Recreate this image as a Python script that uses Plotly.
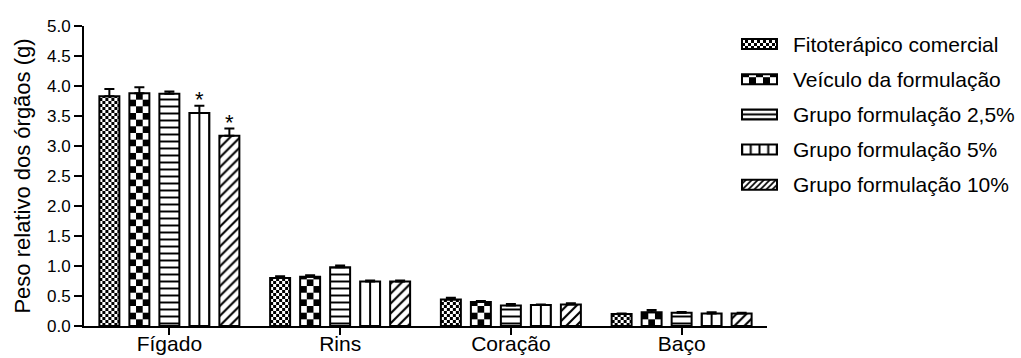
import plotly.graph_objects as go

# Relative organ weight (g) per group, mean and upper SEM
organs = ["Fígado", "Rins", "Coração", "Baço"]
groups = [
    "Fitoterápico comercial",
    "Veículo da formulação",
    "Grupo formulação 2,5%",
    "Grupo formulação 5%",
    "Grupo formulação 10%",
]
fitoterapico = [3.83, 0.80, 0.44, 0.20]
fitoterapico_sem = [0.12, 0.03, 0.03, 0.01]
veiculo = [3.88, 0.82, 0.40, 0.23]
veiculo_sem = [0.10, 0.025, 0.015, 0.035]
form_2_5 = [3.87, 0.98, 0.34, 0.22]
form_2_5_sem = [0.04, 0.03, 0.025, 0.015]
form_5 = [3.55, 0.74, 0.35, 0.21]
form_5_sem = [0.12, 0.02, 0.01, 0.02]
form_10 = [3.17, 0.74, 0.36, 0.21]
form_10_sem = [0.12, 0.02, 0.02, 0.01]
# significance marks (group index, organ index)
significant = [(3, 0), (4, 0)]

means = [fitoterapico, veiculo, form_2_5, form_5, form_10]
sems = [fitoterapico_sem, veiculo_sem, form_2_5_sem, form_5_sem, form_10_sem]
# fill of each group: a plotly pattern, or a tile built by the script below
patterns = [
    None,
    None,
    dict(shape="-", size=7, solidity=0.28),
    None,
    dict(shape="/", size=7, solidity=0.3),
]
custom_fill = ["fine", "coarse", "hlines", "vlines", "diag"]

STEP = 0.1757   # distance between neighbouring bars, in category units
WIDTH = 0.117   # bar width, in category units
FONT = "Liberation Sans, Arial, sans-serif"

W, H = 1021, 358
M = dict(l=84, r=254, t=26, b=32)
PLOT_W = W - M["l"] - M["r"]
PLOT_H = H - M["t"] - M["b"]

fig = go.Figure()
for j, (name, y, e, pat) in enumerate(zip(groups, means, sems, patterns)):
    xs = [i + (j - 2) * STEP for i in range(len(organs))]
    marker = dict(color="white", line=dict(color="black", width=2))
    if pat:
        marker["pattern"] = dict(fgcolor="black", bgcolor="white",
                                 fillmode="replace", **pat)
    fig.add_trace(go.Bar(
        x=xs, y=y, width=WIDTH, name=name, showlegend=False,
        marker=marker,
        error_y=dict(type="data", array=e, arrayminus=[0] * len(e),
                     symmetric=False, color="black", thickness=2, width=5),
    ))

for j, i in significant:
    fig.add_annotation(
        x=i + (j - 2) * STEP, y=means[j][i] + sems[j][i],
        text="*", showarrow=False, yanchor="bottom", yshift=-8,
        font=dict(family=FONT, size=22, color="black"),
    )


# legend: wide swatch + label per group, placed in pixels right of the axes
def px_x(px):
    return (px - M["l"]) / PLOT_W


def px_y(py):
    return (H - M["b"] - py) / PLOT_H


LEG_SWATCH_X = (742, 777)
LEG_TEXT_X = 791
LEG_ROW0, LEG_ROW_STEP = 44, 35.2
for j, name in enumerate(groups):
    cy = LEG_ROW0 + j * LEG_ROW_STEP
    fig.add_shape(
        type="rect", xref="paper", yref="paper",
        x0=px_x(LEG_SWATCH_X[0]), x1=px_x(LEG_SWATCH_X[1]),
        y0=px_y(cy + 5), y1=px_y(cy - 5),
        line=dict(color="black", width=2), fillcolor="white",
    )
    fig.add_annotation(
        xref="paper", yref="paper", x=px_x(LEG_TEXT_X), y=px_y(cy),
        xanchor="left", yanchor="middle", text=name, showarrow=False,
        font=dict(family=FONT, size=21, color="black"),
    )

fig.update_layout(
    width=W, height=H,
    margin=dict(**M, autoexpand=False),
    plot_bgcolor="white", paper_bgcolor="white",
    barmode="overlay",
    font=dict(family=FONT, color="black"),
    showlegend=False,
    xaxis=dict(
        range=[-0.5, 3.5], automargin=False,
        tickvals=list(range(len(organs))), ticktext=organs,
        showline=True, linecolor="black", linewidth=2,
        ticks="outside", ticklen=7, tickwidth=2, tickcolor="black",
        ticklabelstandoff=-9,
        tickfont=dict(family=FONT, size=21, color="black"),
        showgrid=False, zeroline=False,
    ),
    yaxis=dict(
        range=[0, 5], dtick=0.5, tickformat=".1f", automargin=False,
        showline=True, linecolor="black", linewidth=2,
        ticks="outside", ticklen=8, tickwidth=2, tickcolor="black",
        tickfont=dict(family=FONT, size=17, color="black"),
        title=dict(text="Peso relativo dos órgãos (g)",
                   font=dict(family=FONT, size=22, color="black"),
                   standoff=10),
        showgrid=False, zeroline=False,
    ),
)

kinds_js = "[" + ",".join("null" if k is None else f"'{k}'" for k in custom_fill) + "]"

post_js = """
var gd = document.getElementById('{plot_id}');
var NS = 'http://www.w3.org/2000/svg';
var kinds = KINDS;
var uid = 0;
function add(p, tag, attrs) {
  var el = document.createElementNS(NS, tag);
  for (var a in attrs) el.setAttribute(a, attrs[a]);
  p.appendChild(el);
  return el;
}
function rect(p, x, y, w, h, c) {
  add(p, 'rect', {x: x, y: y, width: w, height: h, fill: c});
}
// tile fills for the legend swatches and the checker / centre-line bars
function makeFill(defs, kind, box, lines) {
  var p = document.createElementNS(NS, 'pattern');
  var id = 'orgfill' + (uid++);
  p.setAttribute('id', id);
  p.setAttribute('patternUnits', 'userSpaceOnUse');
  var w, h, ox = box.x, oy = box.y + box.height;
  if (kind === 'fine') {
    var c = 3; w = h = 2 * c;
    rect(p, 0, 0, w, h, 'white');
    rect(p, 0, 0, c, c, 'black'); rect(p, c, c, c, c, 'black');
  } else if (kind === 'coarse') {
    var n = Math.max(1, Math.round(box.width / 6.8));
    var c2 = box.width / n; w = h = 2 * c2;
    rect(p, 0, 0, w, h, 'white');
    rect(p, 0, 0, c2, c2, 'black'); rect(p, c2, c2, c2, c2, 'black');
  } else if (kind === 'vlines') {
    w = box.width / lines; h = 10;
    rect(p, 0, 0, w, h, 'white');
    rect(p, w / 2 - 1, 0, 2, h, 'black');
    ox = box.x + w / 2;
  } else if (kind === 'hlines') {
    w = 10; h = box.height / 2;
    rect(p, 0, 0, w, h, 'white');
    rect(p, 0, h / 2 - 1, w, 2, 'black');
    oy = box.y + h / 2;
  } else {
    w = h = 6;
    rect(p, 0, 0, w, h, 'white');
    add(p, 'path', {d: 'M-1,7L7,-1M-4,4L4,-4M2,10L10,2', stroke: 'black',
                    'stroke-width': 1.6});
  }
  p.setAttribute('width', w); p.setAttribute('height', h);
  p.setAttribute('x', ox); p.setAttribute('y', oy);
  defs.appendChild(p);
  return 'url(#' + id + ')';
}
function restyleFills() {
  var defs = gd.querySelector('svg defs');
  var traces = gd.querySelectorAll('.barlayer .trace');
  var swatches = gd.querySelectorAll('.shapelayer path[data-index]');
  kinds.forEach(function(kind, j) {
    if (swatches[j]) {
      swatches[j].style.fill = makeFill(defs, kind, swatches[j].getBBox(), 4);
    }
    if (!traces[j] || kind === 'hlines' || kind === 'diag') return;
    var bp = traces[j].querySelectorAll('.point path');
    for (var m = 0; m < bp.length; m++) {
      bp[m].style.fill = makeFill(defs, kind, bp[m].getBBox(), 2);
    }
  });
}
restyleFills();
gd.on('plotly_afterplot', restyleFills);
""".replace("KINDS", kinds_js)

fig.write_html("out.html", post_script=post_js)
